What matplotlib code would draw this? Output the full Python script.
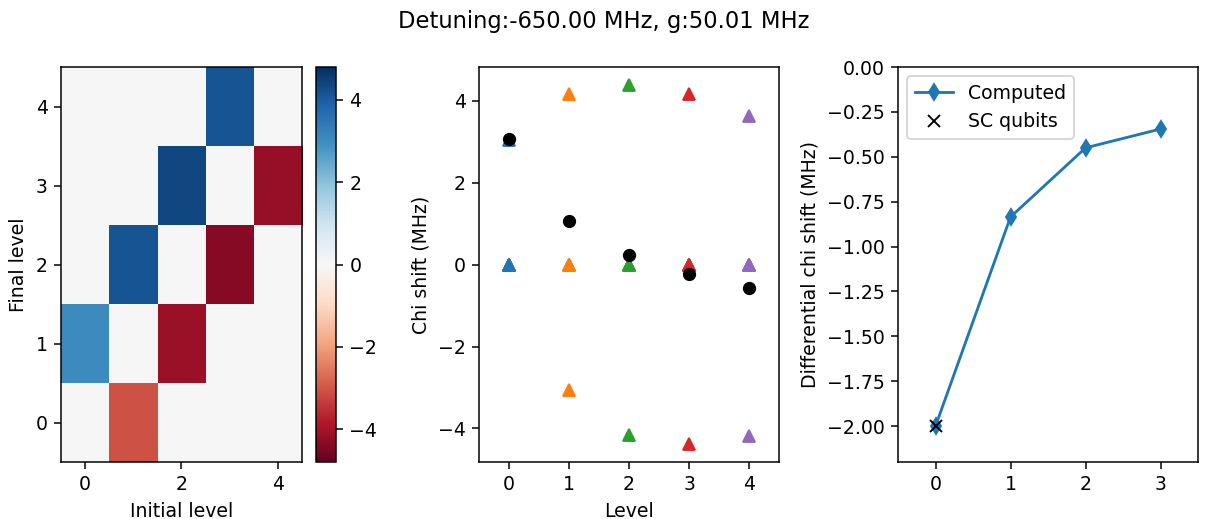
import numpy as np
import matplotlib
matplotlib.use("Agg")
import matplotlib.pyplot as plt

# Chi shift matrix, rows = final level, cols = initial level (MHz)
chi_matrix = [
    [0.0, -3.07, 0.0, 0.0, 0.0],
    [3.05, 0.0, -4.15, 0.0, 0.0],
    [0.0, 4.15, 0.0, -4.38, 0.0],
    [0.0, 0.0, 4.38, 0.0, -4.18],
    [0.0, 0.0, 0.0, 4.16, 0.0],
]
# transitions to level 5 (not in the heatmap)
chi_to_top = [0.0, 0.0, 0.0, 0.0, 3.63]

levels = [0, 1, 2, 3, 4]
chi_total = [3.07, 1.065, 0.23, -0.225, -0.575]

diff_levels = [0, 1, 2, 3]
diff_chi = [-2.0, -0.835, -0.45, -0.345]
sc_levels = [0]
sc_diff = [-2.0]

cmap_lim = 4.8

fig = plt.figure(figsize=(1207 / 136, 519 / 136), dpi=136)
fig.suptitle("Detuning:-650.00 MHz, g:50.01 MHz")

ax1 = fig.add_axes([0.0505, 0.1098, 0.1997, 0.761])
cax = fig.add_axes([0.2618, 0.1098, 0.0166, 0.761])
ax2 = fig.add_axes([0.3969, 0.1098, 0.2486, 0.761])
ax3 = fig.add_axes([0.744, 0.1098, 0.2486, 0.761])

# heatmap
im = ax1.imshow(np.array(chi_matrix), cmap="RdBu", origin="lower", aspect="auto",
                vmin=-cmap_lim, vmax=cmap_lim)
fig.colorbar(im, cax=cax)
ax1.set_xlabel("Initial level")
ax1.set_ylabel("Final level")

# chi shifts per level
mat = np.array(chi_matrix)
for i in levels:
    vals = list(mat[:, i]) + [chi_to_top[i]]
    ax2.plot([i] * len(vals), vals, "^", color="C%d" % i)
ax2.plot(levels, chi_total, "o", color="k")
ax2.set_xlim(-0.5, 4.5)
ax2.set_xticks(levels)
ax2.set_xlabel("Level")
ax2.set_ylabel("Chi shift (MHz)")

# differential chi shift
ax3.plot(diff_levels, diff_chi, "d-", label="Computed")
ax3.plot(sc_levels, sc_diff, "x", color="k", label="SC qubits")
ax3.set_xlim(-0.5, 3.5)
ax3.set_ylim(-2.2, 0)
ax3.set_xticks(diff_levels)
ax3.set_ylabel("Differential chi shift (MHz)")
ax3.legend(loc="upper left")

fig.savefig("out.png", dpi=136)
